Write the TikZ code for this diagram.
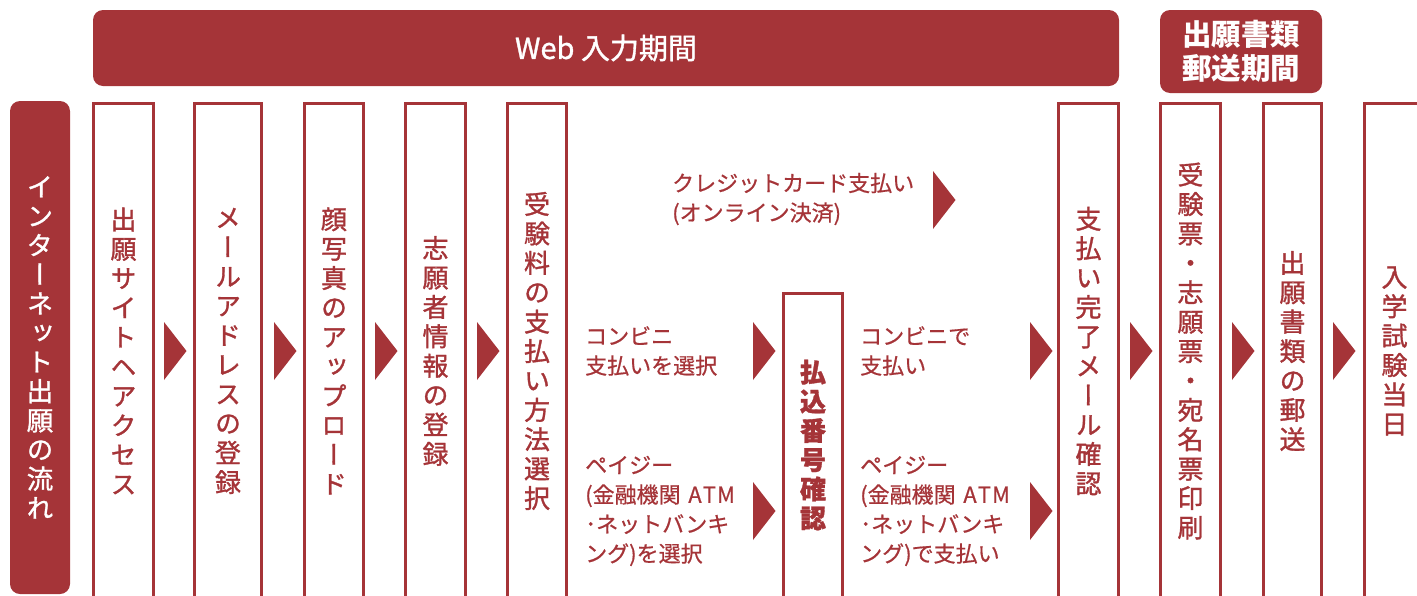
\documentclass[tikz,border=0pt]{standalone}
\usepackage{fontspec}
\setmainfont{Noto Sans CJK JP}
\newfontfamily\jpv[RawFeature={+vert;embolden=1.2}]{Noto Sans CJK JP}
\newfontfamily\jpm[RawFeature={embolden=1.2}]{Noto Sans CJK JP}
\newfontfamily\jpn[RawFeature={embolden=0.6}]{Noto Sans CJK JP}
\definecolor{brick}{HTML}{A53438}
\tikzset{
  band/.style={fill=brick, rounded corners=10pt, text=white, inner sep=0pt, align=center},
  stepbox/.style={draw=brick, line width=3pt, text=brick, inner sep=0pt, align=center,
    minimum width=60, minimum height=496, font=\jpv\fontsize{26}{29.4}\selectfont},
  note/.style={text=brick, anchor=west, align=left, inner sep=0pt,
    font=\jpn\fontsize{22}{29.5}\selectfont},
}
\begin{document}
\begin{tikzpicture}[x=1pt,y=-1pt]
\useasboundingbox (0,0) rectangle (1417,595);
\clip (0,0) rectangle (1417,595);
% periods
\node[band, minimum width=1026, minimum height=76, font=\jpm\fontsize{29}{32}\selectfont] (web) at (606,48) {Web 入力期間};
\node[band, minimum width=162, minimum height=83, font=\bfseries\fontsize{29.5}{34}\selectfont] (post) at (1241,51.5) {出願書類\\郵送期間};
\node[band, minimum width=60, minimum height=493, font=\jpv\fontsize{26.5}{29.2}\selectfont] (flow) at (40,347.5)
  {イ\\ン\\タ\\ー\\ネ\\ッ\\ト\\出\\願\\の\\流\\れ};
% steps
\node[stepbox] (s1) at (123.5,351) {出\\願\\サ\\イ\\ト\\ヘ\\ア\\ク\\セ\\ス};
\node[stepbox, minimum width=67] (s2) at (228,351) {メ\\ー\\ル\\ア\\ド\\レ\\ス\\の\\登\\録};
\node[stepbox, minimum width=59] (s3) at (334,351) {顔\\写\\真\\の\\ア\\ッ\\プ\\ロ\\ー\\ド};
\node[stepbox] (s4) at (435.5,351) {志\\願\\者\\情\\報\\の\\登\\録};
\node[stepbox, minimum width=59] (s5) at (537,351) {受\\験\\料\\の\\支\\払\\い\\方\\法\\選\\択};
\node[stepbox, minimum width=59, minimum height=304, font=\jpv\bfseries\fontsize{26}{29.2}\selectfont] (code) at (813,445)
  {払\\込\\番\\号\\確\\認};
\node[stepbox] (s6) at (1088.5,351) {支\\払\\い\\完\\了\\メ\\ー\\ル\\確\\認};
\node[stepbox] (s7) at (1190.5,351) {受\\験\\票\\・\\志\\願\\票\\・\\宛\\名\\票\\印\\刷};
\node[stepbox, minimum width=58] (s8) at (1292.5,351) {出\\願\\書\\類\\の\\郵\\送};
\node[stepbox] (s9) at (1394.5,351) {入\\学\\試\\験\\当\\日};
% arrows
\foreach \x/\y in {164/351,274/351,375/351,477/351,1130/351,1232/351,1333/351,
    933/200,753/351,753/511,1030/351,1030/511} {
    \fill[brick] (\x,\y-29) -- (\x+22.5,\y) -- (\x,\y+29) -- cycle;
  }
% payment notes
\node[note] (credit) at (672,199) {クレジットカード支払い\\(オンライン決済)};
\node[note] (cvs) at (585,351) {コンビニ\\支払いを選択};
\node[note] (pe) at (585,511) {ペイジー\\(金融機関\hspace{.35em}A\hspace{.05em}T\hspace{.05em}M\\･ネットバンキ\\ング)を選択};
\node[note] (cvspay) at (860,351) {コンビニで\\支払い};
\node[note] (pepay) at (860,511) {ペイジー\\(金融機関\hspace{.35em}A\hspace{.05em}T\hspace{.05em}M\\･ネットバンキ\\ング)で支払い};
\end{tikzpicture}
\end{document}
